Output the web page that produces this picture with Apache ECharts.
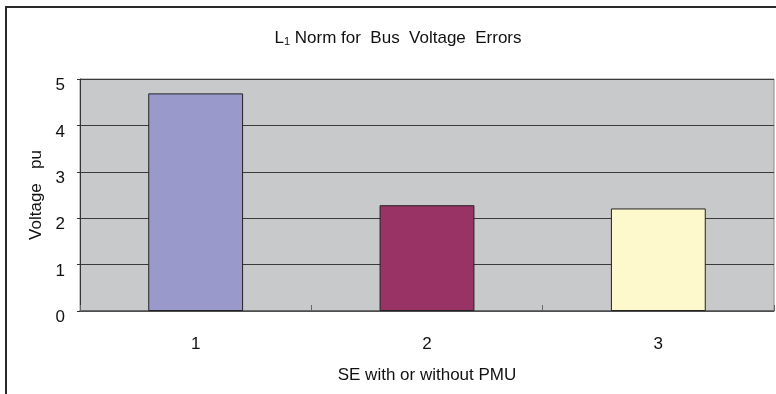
<!DOCTYPE html>
<html>
<head>
<meta charset="utf-8">
<script src="https://cdn.jsdelivr.net/npm/echarts@6/dist/echarts.min.js"></script>
<style>
  html, body { margin: 0; padding: 0; background: #ffffff; overflow: hidden; }
  #chart { width: 776px; height: 394px; }
</style>
</head>
<body>
<div id="chart"></div>
<script>
// Categories: state estimation runs with or without PMU data
const categories = ['1', '2', '3'];
// L1 norm of bus voltage errors (pu)
const errorValues = [4.69, 2.28, 2.21];
// Value axis ticks
const yTicks = [0, 1, 2, 3, 4, 5];
// Fill colour of each bar
const barColors = ['#9999cc', '#993366', '#fdf9cc'];

const FONT = '"Liberation Sans", Arial, sans-serif';

const chart = echarts.init(document.getElementById('chart'), null, { renderer: 'canvas' });

chart.setOption({
  animation: false,
  backgroundColor: '#ffffff',
  textStyle: { fontFamily: FONT },
  graphic: [
    {
      // outer chart frame: only the left and top edges fall inside the canvas
      type: 'polyline',
      silent: true,
      z: -10,
      shape: { points: [[6, 420], [6, 7], [800, 7]] },
      style: { fill: null, stroke: '#2a2a2a', lineWidth: 2 }
    },
    {
      type: 'text',
      x: 398,
      y: 38,
      style: {
        text: '{t|L}{s|1}{t| Norm for  Bus  Voltage  Errors}',
        align: 'center',
        verticalAlign: 'middle',
        fill: '#111',
        rich: {
          t: { fontFamily: FONT, fontSize: 17, fill: '#111', verticalAlign: 'bottom', lineHeight: 18 },
          s: { fontFamily: FONT, fontSize: 11, fill: '#111', verticalAlign: 'bottom', lineHeight: 15 }
        }
      }
    }
  ],
  grid: {
    left: 80,
    right: 2,
    top: 79,
    bottom: 83,
    show: true,
    backgroundColor: '#c8c9cb',
    borderColor: '#8a8a8a',
    borderWidth: 1,
    containLabel: false
  },
  xAxis: {
    type: 'category',
    data: categories,
    name: 'SE with or without PMU',
    nameLocation: 'middle',
    nameGap: 56,
    nameTextStyle: { fontFamily: FONT, fontSize: 17, color: '#111' },
    axisLine: { show: true, lineStyle: { color: '#555', width: 1.5 } },
    axisTick: { show: true, inside: true, length: 6, lineStyle: { color: '#666' } },
    axisLabel: { margin: 25, fontFamily: FONT, fontSize: 17, color: '#111' },
    splitLine: { show: false }
  },
  yAxis: {
    type: 'value',
    min: yTicks[0],
    max: yTicks[yTicks.length - 1],
    interval: yTicks[1] - yTicks[0],
    name: 'Voltage   pu',
    nameLocation: 'middle',
    nameGap: 32,
    nameRotate: 90,
    nameTextStyle: { fontFamily: FONT, fontSize: 17, color: '#111' },
    axisLine: { show: true, lineStyle: { color: '#333', width: 1 } },
    axisTick: { show: true, length: 3, lineStyle: { color: '#333' } },
    axisLabel: {
      margin: 15,
      fontFamily: FONT,
      fontSize: 17,
      color: '#111',
      verticalAlign: 'top',
      lineHeight: 13
    },
    splitLine: { show: true, lineStyle: { color: '#3a3a3a', width: 1 } }
  },
  series: [
    {
      type: 'bar',
      barWidth: '41%',
      data: errorValues.map((v, i) => ({
        value: v,
        itemStyle: { color: barColors[i] }
      })),
      itemStyle: { borderColor: '#222', borderWidth: 1 }
    }
  ]
});
</script>
</body>
</html>
